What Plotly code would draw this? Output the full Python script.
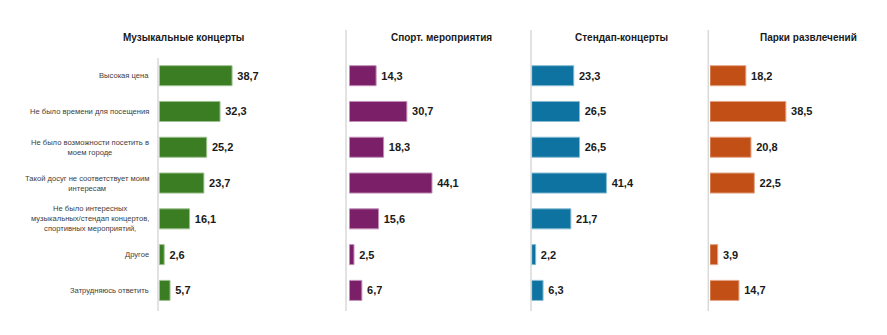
import plotly.graph_objects as go

categories = [
    "Высокая цена",
    "Не было времени для посещения",
    "Не было возможности посетить в<br>моем городе",
    "Такой досуг не соответствует моим<br>интересам",
    "Не было интересных<br>музыкальных/стендап концертов,<br>спортивных мероприятий,",
    "Другое",
    "Затрудняюсь ответить",
]
panel_titles = ["Музыкальные концерты", "Спорт. мероприятия", "Стендап-концерты", "Парки развлечений"]
music = [38.7, 32.3, 25.2, 23.7, 16.1, 2.6, 5.7]
sport = [14.3, 30.7, 18.3, 44.1, 15.6, 2.5, 6.7]
standup = [23.3, 26.5, 26.5, 41.4, 21.7, 2.2, 6.3]
parks = [18.2, 38.5, 20.8, 22.5, None, 3.9, 14.7]

series = [music, sport, standup, parks]
colors = ["#3B7D23", "#7A1F68", "#0E73A0", "#C24F15"]
line_colors = ["#9cc08f", "#c28fb8", "#87bcd3", "#e3a585"]

W, H = 887, 335
# panel placement in pixels: (bar start x, px per unit)
panels = [(159.3, 1.88), (349.3, 1.875), (531.7, 1.805), (710.0, 1.97)]
title_cx = [183, 441, 621, 808]
sep_x = [(158, 58), (346, 30), (531, 30), (708.3, 30)]
y_top, y_bot = 57.8, 308.3
RMAX = 50

fig = go.Figure()
for i, (vals, c, lc) in enumerate(zip(series, colors, line_colors)):
    ax = "x" if i == 0 else f"x{i+1}"
    fig.add_trace(go.Bar(
        x=vals, y=categories, orientation="h", xaxis=ax, yaxis="y",
        marker=dict(color=c, line=dict(color=lc, width=1)),
        texttemplate="\u2009%{x:.1f}", textposition="outside", cliponaxis=False,
        textfont=dict(family="Liberation Sans, Arial", size=11, color="#1a1a1a", weight="bold"),
        showlegend=False, hoverinfo="skip",
    ))

layout = dict(
    width=W, height=H, margin=dict(l=0, r=0, t=0, b=0),
    paper_bgcolor="white", plot_bgcolor="rgba(0,0,0,0)",
    separators=", ", bargap=0.44,
    font=dict(family="Liberation Sans, Arial", color="#404040"),
    yaxis=dict(type="category", range=[6.5, -0.5], showticklabels=False,
               showgrid=False, zeroline=False, showline=False,
               domain=[(H - y_bot) / H, (H - y_top) / H]),
)
for i, (x0, ppu) in enumerate(panels):
    key = "xaxis" if i == 0 else f"xaxis{i+1}"
    layout[key] = dict(domain=[x0 / W, (x0 + ppu * RMAX) / W], range=[0, RMAX],
                       visible=False, anchor="y")
fig.update_layout(**layout)

shapes = []
for sx, top in sep_x:
    shapes.append(dict(type="line", xref="paper", yref="paper",
                       x0=sx / W, x1=sx / W, y0=(H - 311) / H, y1=(H - top) / H,
                       line=dict(color="#d9d9d9", width=1.5), layer="below"))
fig.update_layout(shapes=shapes)

ann = []
for t, cx in zip(panel_titles, title_cx):
    ann.append(dict(text=f"<b>{t}</b>", x=cx / W, y=(H - 38) / H, xref="paper", yref="paper",
                    xanchor="center", yanchor="middle", showarrow=False,
                    font=dict(size=10, color="#1a1a1a", family="Liberation Sans, Arial")))
for cat in categories:
    ann.append(dict(text=cat, x=151 / W, y=cat, xref="paper", yref="y",
                    xanchor="right", yanchor="middle", align="center", showarrow=False,
                    font=dict(size=7.6, color="#404040", family="Liberation Sans, Arial")))
fig.update_layout(annotations=ann)

fig.write_html("out.html")
